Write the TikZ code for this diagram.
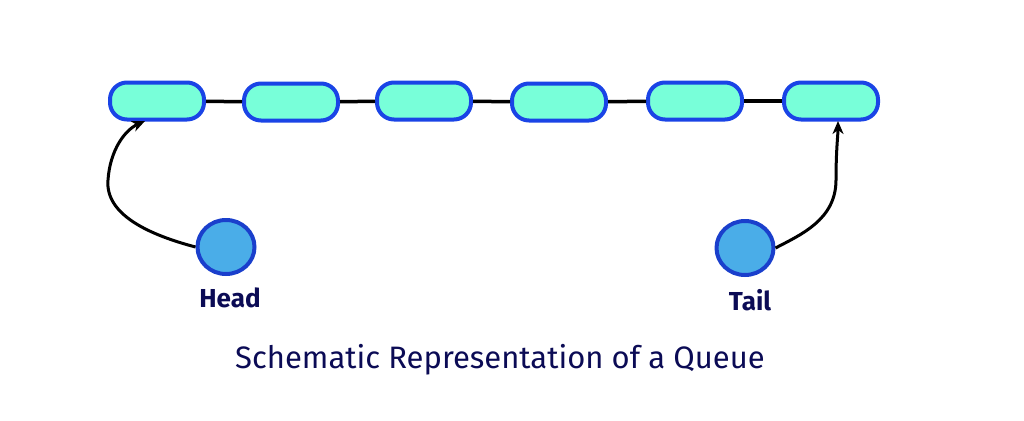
\documentclass[tikz,border=0pt]{standalone}
\usepackage{fontspec}
\setmainfont{Fira Sans}
\usetikzlibrary{arrows.meta,shapes.geometric}
\definecolor{pillfill}{HTML}{78FFD9}
\definecolor{pillborder}{HTML}{1A44E6}
\definecolor{circfill}{HTML}{4AADE8}
\definecolor{circborder}{HTML}{1A3FCC}
\definecolor{navy}{HTML}{0B0B55}
\begin{document}
\begin{tikzpicture}[x=1pt,y=-1pt,
  pill/.style={draw=pillborder,fill=pillfill,line width=4pt,rounded corners=17pt,minimum width=94pt,minimum height=37pt,inner sep=0pt},
  ptr/.style={draw=circborder,fill=circfill,line width=4pt,ellipse,minimum width=57pt,minimum height=54pt,inner sep=0pt},
  lbl/.style={text=navy,font=\fontsize{26}{30}\selectfont\bfseries},
  link/.style={line width=3.5pt,black},
  arr/.style={line width=3pt,black,-{Stealth[length=13pt,width=11pt,inset=4pt]}}]
\useasboundingbox (0,0) rectangle (1024,420);
\node[pill] (n1) at (157,101) {};
\node[pill] (n2) at (291,102) {};
\node[pill] (n3) at (424,101) {};
\node[pill] (n4) at (559,102) {};
\node[pill] (n5) at (695,101) {};
\node[pill] (n6) at (831,101) {};
\draw[link] (n1) -- (n2);
\draw[link] (n2) -- (n3);
\draw[link] (n3) -- (n4);
\draw[link] (n4) -- (n5);
\draw[link] (n5) -- (n6);
\node[ptr] (head) at (226,247) {};
\node[ptr] (tail) at (745,248) {};
\node[lbl] (hl) at (230,298) {Head};
\node[lbl] (tl) at (750,300) {Tail};
\node[text=navy,font=\fontsize{31}{36}\selectfont] (title) at (500,360) {Schematic Representation of a Queue};
\coordinate (hend) at (145,121);
\coordinate (tend) at (838,121);
\draw[arr] (head.west) .. controls (150,235) and (105,215) .. (108,180) .. controls (110,150) and (125,130) .. (hend);
\draw[arr] (tail.east) .. controls (800,235) and (836,220) .. (836,180) .. controls (836,150) and (838,135) .. (tend);
\end{tikzpicture}
\end{document}
